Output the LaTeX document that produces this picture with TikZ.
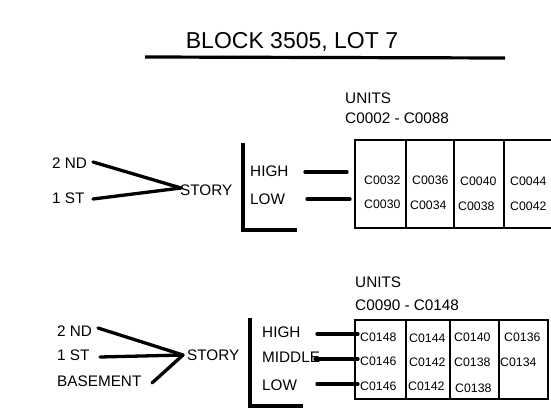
\documentclass[tikz,border=0pt]{standalone}
\usepackage{fontspec}
\setmainfont{Liberation Sans}
\begin{document}
\begin{tikzpicture}[x=1pt,y=-1pt,
  lbl/.style={anchor=west,inner sep=0pt,font=\fontsize{15.3}{15}\selectfont},
  cell/.style={anchor=west,inner sep=0pt,font=\fontsize{12.3}{12}\selectfont},
  thk/.style={line width=3.3pt,line cap=round},
  boxln/.style={line width=1.1pt}]
\useasboundingbox (0,0) rectangle (551,412);
% title
\node[inner sep=0pt,font=\fontsize{23}{23}\selectfont] (title) at (292,42) {BLOCK 3505, LOT 7};
\coordinate (ul1) at (145,57); \coordinate (ul2) at (505,58);
\draw[line width=3.2pt] (ul1) -- (ul2);
% ---- top section
\node[lbl] (unitsA) at (345,98) {UNITS};
\node[lbl] (rangeA) at (345,118) {C0002 - C0088};
\node[lbl] (ndA) at (52,163) {2 ND};
\node[lbl] (stA) at (52,198) {1 ST};
\coordinate (jA) at (181,188);
\coordinate (ndAe) at (93,162);
\coordinate (stAe) at (93,199);
\draw[thk] (ndAe) -- (jA);
\draw[thk] (stAe) -- (jA);
\node[lbl] (storyA) at (180,190) {STORY};
\coordinate (brA1) at (243,143); \coordinate (brA2) at (243,230); \coordinate (brA3) at (297,230);
\draw[thk,line cap=butt] (brA1) -- (brA2) -- (brA3);
\node[lbl] (highA) at (250,171) {HIGH};
\node[lbl] (lowA) at (250,199) {LOW};
\coordinate (hA1) at (305,172); \coordinate (hA2) at (347,172);
\coordinate (lA1) at (307,199); \coordinate (lA2) at (350,199);
\draw[thk] (hA1) -- (hA2);
\draw[thk] (lA1) -- (lA2);
\draw[boxln] (355,140) rectangle (555,228);
\draw[boxln] (406,140) -- (406,228) (454,140) -- (454,228) (504,140) -- (504,228);
\node[cell] (c0032) at (364,180) {C0032};
\node[cell] (c0030) at (364,204) {C0030};
\node[cell] (c0036) at (412,180) {C0036};
\node[cell] (c0034) at (410,205) {C0034};
\node[cell] (c0040) at (460,181) {C0040};
\node[cell] (c0038) at (458,206) {C0038};
\node[cell] (c0044) at (510,181) {C0044};
\node[cell] (c0042) at (510,206) {C0042};
% ---- bottom section
\node[lbl] (unitsB) at (355,282) {UNITS};
\node[lbl] (rangeB) at (355,305) {C0090 - C0148};
\node[lbl] (ndB) at (57,331) {2 ND};
\node[lbl] (stB) at (57,355) {1 ST};
\node[lbl] (bsB) at (57,381) {BASEMENT};
\coordinate (jB) at (183,355);
\coordinate (ndBe) at (98,328);
\coordinate (stBe) at (100,357);
\coordinate (bsBe) at (152,383);
\draw[thk] (ndBe) -- (jB);
\draw[thk] (stBe) -- (jB);
\draw[thk] (bsBe) -- (jB);
\node[lbl] (storyB) at (187,355) {STORY};
\coordinate (brB1) at (250,318); \coordinate (brB2) at (250,406); \coordinate (brB3) at (303,406);
\draw[thk,line cap=butt] (brB1) -- (brB2) -- (brB3);
\node[lbl] (highB) at (262,332) {HIGH};
\node[lbl] (midB) at (262,357) {MIDDLE};
\node[lbl] (lowB) at (262,385) {LOW};
\coordinate (hB1) at (317,334); \coordinate (hB2) at (358,334);
\coordinate (mB1) at (315,359); \coordinate (mB2) at (358,359);
\coordinate (lB1) at (317,384); \coordinate (lB2) at (358,384);
\draw[thk] (hB1) -- (hB2);
\draw[thk] (mB1) -- (mB2);
\draw[thk] (lB1) -- (lB2);
\draw[boxln] (355,320) rectangle (548,399);
\draw[boxln] (406,320) -- (406,399) (450,320) -- (450,399) (499,320) -- (499,399);
\node[cell] (c0148) at (360,337) {C0148};
\node[cell] (c0146a) at (360,361) {C0146};
\node[cell] (c0146b) at (360,386) {C0146};
\node[cell] (c0144) at (409,338) {C0144};
\node[cell] (c0142a) at (409,362) {C0142};
\node[cell] (c0142b) at (408,386) {C0142};
\node[cell] (c0140) at (454,337) {C0140};
\node[cell] (c0138a) at (454,362) {C0138};
\node[cell] (c0138b) at (455,388) {C0138};
\node[cell] (c0136) at (504,337) {C0136};
\node[cell] (c0134) at (500,362) {C0134};
\end{tikzpicture}
\end{document}
